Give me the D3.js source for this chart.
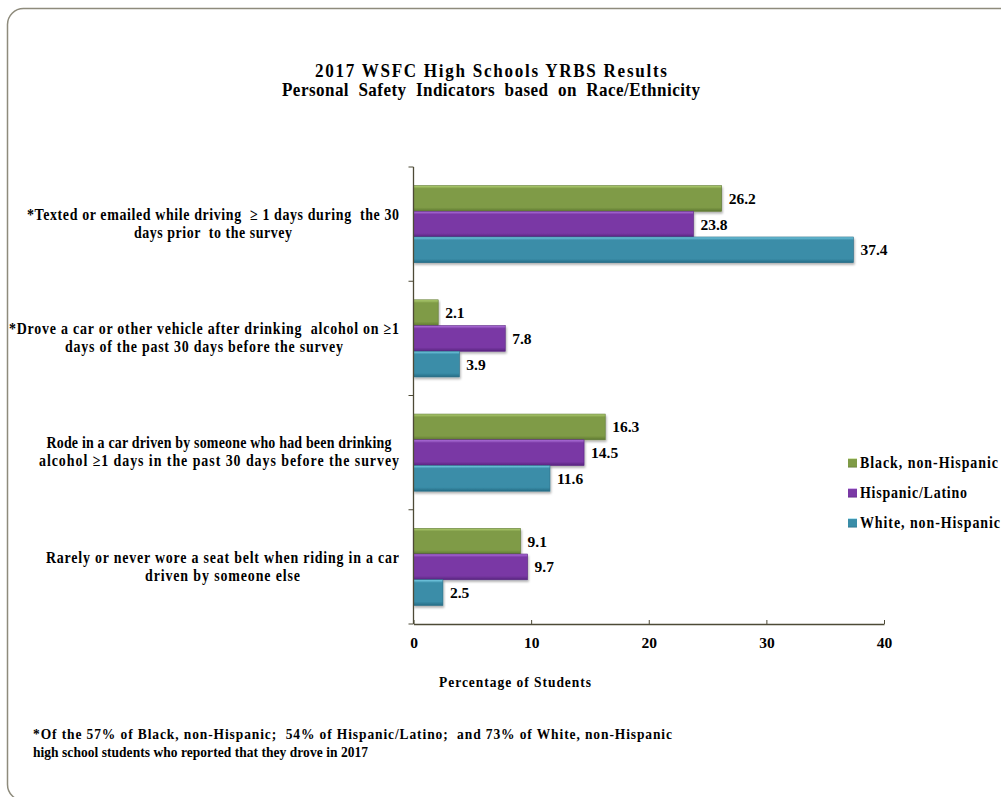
<!DOCTYPE html>
<html><head><meta charset="utf-8">
<script src="https://cdn.jsdelivr.net/npm/d3@7"></script>
<style>
body{margin:0;background:#fff;}
svg text{font-family:"Liberation Serif","Times New Roman",serif;font-weight:bold;fill:#000;white-space:pre;}
</style></head><body>
<svg id="chart" width="1001" height="797"></svg>
<script>
const categories = [
  ["*Texted or emailed while driving  \u2265 1 days during  the 30", "days prior  to the survey"],
  ["*Drove a car or other vehicle after drinking  alcohol on \u22651", "days of the past 30 days before the survey"],
  ["Rode in a car driven by someone who had been drinking", "alcohol \u22651 days in the past 30 days before the survey"],
  ["Rarely or never wore a seat belt when riding in a car", "driven by someone else"]
];
const seriesNames = ["Black, non-Hispanic", "Hispanic/Latino", "White, non-Hispanic"];
const black = [26.2, 2.1, 16.3, 9.1];
const hispanic = [23.8, 7.8, 14.5, 9.7];
const white = [37.4, 3.9, 11.6, 2.5];
const xTicks = [0, 10, 20, 30, 40];
const title = ["2017 WSFC High Schools YRBS Results", "Personal  Safety  Indicators  based  on  Race/Ethnicity"];
const axisTitle = "Percentage of Students";
const footnote = ["*Of the 57% of Black, non-Hispanic;  54% of Hispanic/Latino;  and 73% of White, non-Hispanic",
                  "high school students who reported that they drove in 2017"];

const titleW = [352, 418];
const catW = [[372, 158], [390, 278], [345, 360], [353, 155]];
const footW = [639, 335];
const legendW = [138, 107, 140];
const axisTitleW = 152;

const series = [black, hispanic, white];
const colors = [
  {main:"#7f9b46", light:"#b3d274", dark:"#5e7832"},
  {main:"#7a39a5", light:"#b476e0", dark:"#58237f"},
  {main:"#3a8da8", light:"#7ad0e8", dark:"#266c85"}
];

// draw condensed text of given width
function ctext(parent, str, x, y, size, width, anchor, baseline, k){
  k = k || 0.87;
  const t = parent.append("text")
    .attr("transform", `translate(${x},${y}) scale(${k},1)`)
    .attr("x",0).attr("y",0)
    .attr("text-anchor", anchor || "start")
    .style("font-size", size+"px").text(str);
  if (baseline) t.attr("dominant-baseline", baseline);
  const nat = t.node().getComputedTextLength();
  const w = width / k;
  t.attr("textLength", w).attr("lengthAdjust", nat < w ? "spacing" : "spacingAndGlyphs");
  return t;
}

const svg = d3.select("#chart");
const defs = svg.append("defs");
colors.forEach((c,i)=>{
  const g = defs.append("linearGradient").attr("id","g"+i).attr("x1",0).attr("y1",0).attr("x2",0).attr("y2",1);
  g.append("stop").attr("offset","0%").attr("stop-color",c.light);
  g.append("stop").attr("offset","12%").attr("stop-color",c.main);
  g.append("stop").attr("offset","85%").attr("stop-color",c.main);
  g.append("stop").attr("offset","100%").attr("stop-color",c.dark);
});
const f = defs.append("filter").attr("id","sh").attr("x","-5%").attr("y","-20%").attr("width","115%").attr("height","160%");
f.append("feDropShadow").attr("dx",1).attr("dy",2).attr("stdDeviation",1.2).attr("flood-color","#000").attr("flood-opacity",0.3);

// border
svg.append("rect").attr("x",7.5).attr("y",8.5).attr("width",1010).attr("height",792).attr("rx",16)
  .attr("fill","none").attr("stroke","#8e8b7c").attr("stroke-width",1.5);

// title
const tg = svg.append("g");
title.forEach((s,i)=>ctext(tg, s, 491, 77+i*19, 18, titleW[i], "middle", null, 0.95));

const x = d3.scaleLinear().domain([0,40]).range([413.5,884]);
const y = d3.scaleBand().domain(d3.range(categories.length)).range([167,624]).paddingInner(0.325).paddingOuter(0.1625);
const yIn = d3.scaleBand().domain(d3.range(series.length)).range([0,y.bandwidth()]);

const plot = svg.append("g");
series.forEach((vals,si)=>{
  const g = plot.append("g");
  g.selectAll("rect").data(vals).join("rect")
    .attr("x",x(0)).attr("y",(d,i)=>y(i)+yIn(si))
    .attr("width",d=>x(d)-x(0)).attr("height",yIn.bandwidth())
    .attr("fill","url(#g"+si+")").attr("stroke",colors[si].dark).attr("stroke-width",0.6)
    .attr("filter","url(#sh)");
  g.selectAll("text").data(vals).join("text")
    .attr("x",d=>x(d)+7).attr("y",(d,i)=>y(i)+yIn(si)+yIn.bandwidth()/2+2)
    .attr("dominant-baseline","middle").style("font-size","15.5px").text(d=>d.toFixed(1));
});

// x axis
const xAxis = svg.append("g").attr("transform","translate(0,624)")
  .call(d3.axisBottom(x).tickValues(xTicks).tickSize(0).tickPadding(13).tickFormat(d3.format("d")));
xAxis.select(".domain").attr("stroke","#4d4a36").attr("stroke-width",1.3);
xAxis.selectAll(".tick line").attr("y2",-4).attr("stroke","#4d4a36");
xAxis.selectAll("text").style("font-size","15.5px").style("font-family",'"Liberation Serif",serif').style("font-weight","bold").attr("fill","#000");

// y axis line & category ticks
svg.append("line").attr("x1",x(0)).attr("x2",x(0)).attr("y1",167).attr("y2",624).attr("stroke","#4d4a36").attr("stroke-width",1.3);
svg.append("g").selectAll("line").data(d3.range(categories.length+1)).join("line")
  .attr("x1",x(0)-5).attr("x2",x(0)).attr("y1",i=>167+i*y.step()).attr("y2",i=>167+i*y.step())
  .attr("stroke","#4d4a36").attr("stroke-width",1);

// category labels
categories.forEach((lines,i)=>{
  const g = svg.append("g");
  const cy = y(i)+y.bandwidth()/2;
  const mw = d3.max(catW[i]);
  lines.forEach((s,j)=>ctext(g, s, 399 - mw/2, cy + (j-0.5)*18 + 1, 16, catW[i][j], "middle", "middle"));
});

// axis title
ctext(svg, axisTitle, 515, 687, 15.5, axisTitleW, "middle");

// legend
const lg = svg.append("g");
seriesNames.forEach((n,i)=>{
  lg.append("rect").attr("x",848).attr("y",463+i*30-4.5).attr("width",9).attr("height",9).attr("fill","url(#g"+i+")");
  ctext(lg, n, 860, 463+i*30+1, 16, legendW[i], "start", "middle");
});

// footnote
const fg = svg.append("g");
footnote.forEach((s,i)=>ctext(fg, s, 33, 739+i*18, 15.5, footW[i], "start"));
</script>
</body></html>
